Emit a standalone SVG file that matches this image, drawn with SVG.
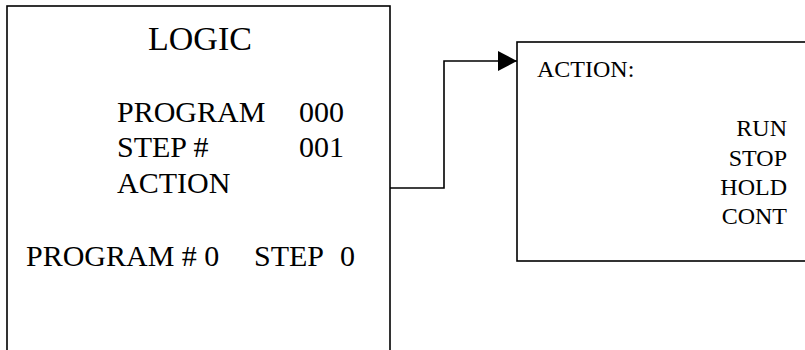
<svg xmlns="http://www.w3.org/2000/svg" width="805" height="350" viewBox="0 0 805 350">
<defs>
<style>
.box{fill:#fff;stroke:#000;stroke-width:1.6}
text{font-family:"Liberation Serif","Times New Roman",serif;fill:#000}
.m{font-size:30px}
.s{font-size:24px}
.conn{fill:none;stroke:#000;stroke-width:1.6}
</style>
<marker id="arr" markerWidth="20" markerHeight="20" refX="19" refY="10" orient="auto" markerUnits="userSpaceOnUse">
<path d="M0,0 L19,10 L0,20 Z" fill="#000"/>
</marker>
</defs>
<rect width="805" height="350" fill="#fff"/>
<g id="logic">
<rect class="box" x="7" y="6" width="383" height="360"/>
<text x="148" y="50" style="font-size:34px">LOGIC</text>
<text class="m" x="117" y="122">PROGRAM</text>
<text class="m" x="299" y="122">000</text>
<text class="m" x="117" y="157">STEP #</text>
<text class="m" x="299" y="157">001</text>
<text class="m" x="117" y="193">ACTION</text>
<text class="m" x="26" y="266">PROGRAM # 0</text>
<text class="m" x="254" y="266">STEP</text>
<text class="m" x="340" y="266">0</text>
</g>
<g id="action">
<rect class="box" x="517" y="42" width="300" height="219"/>
<text class="s" x="537" y="77">ACTION:</text>
<text class="s" x="787" y="136" text-anchor="end">RUN</text>
<text class="s" x="787" y="166" text-anchor="end">STOP</text>
<text class="s" x="787" y="195" text-anchor="end">HOLD</text>
<text class="s" x="787" y="224" text-anchor="end">CONT</text>
</g>
<g id="connectors">
<path class="conn" d="M390,188 H444 V61 H517" marker-end="url(#arr)"/>
</g>
</svg>
